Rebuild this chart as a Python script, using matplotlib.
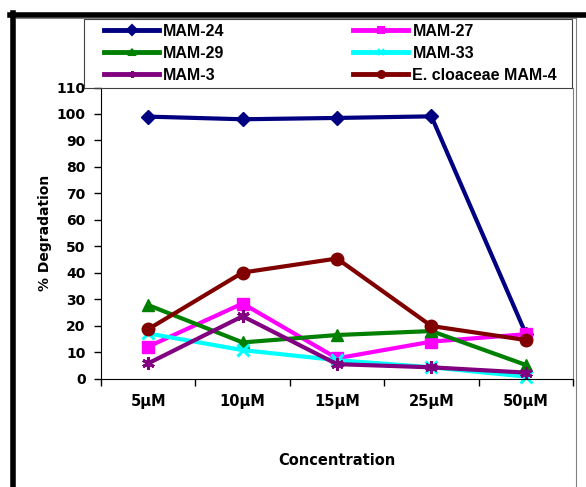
import numpy as np
import matplotlib.pyplot as plt
from matplotlib.lines import Line2D
from matplotlib.patches import Rectangle

plt.rcParams['font.family'] = ['DejaVu Sans']
plt.rcParams['font.weight'] = 'bold'

concentrations = ['5µM', '10µM', '15µM', '25µM', '50µM']
series_names = ['MAM-24', 'MAM-27', 'MAM-29', 'MAM-33', 'MAM-3', 'E. cloaceae MAM-4']
mam24 = [99.0, 98.0, 98.5, 99.1, 17.0]
mam27 = [12.1, 28.4, 7.7, 14.0, 16.8]
mam29 = [27.8, 13.7, 16.5, 18.0, 5.2]
mam33 = [17.1, 10.8, 7.0, 4.3, 0.8]
mam3 = [5.8, 23.6, 5.5, 4.3, 2.3]
cloaceae = [18.7, 40.1, 45.4, 19.9, 14.6]

colors = ['#000080', '#FF00FF', '#008000', '#00FFFF', '#800080', '#800000']
markers = ['D', 's', '^', 'x', (6, 2, 0), 'o']
sizes = [7, 8, 8, 9, 9, 9]

W, H = 586, 487
fig = plt.figure(figsize=(W / 100, H / 100), dpi=100)
ax = fig.add_axes([101 / W, 1 - 378.7 / H, 472 / W, (378.7 - 87.5) / H])

x = np.arange(len(concentrations)) + 0.5
all_series = [mam24, mam27, mam29, mam33, mam3, cloaceae]
for name, vals, c, m, s in zip(series_names, all_series, colors, markers, sizes):
    mew = 2.2 if m in ('x', (6, 2, 0)) else 1
    ax.plot(x, vals, color=c, lw=3, marker=m, ms=s, mec=c, mfc=c, mew=mew,
            label=name, clip_on=False)

ax.set_xlim(0, 5)
ax.set_ylim(0, 110)
ax.set_yticks(np.arange(0, 111, 10))
ax.set_xticks(np.arange(0, 6))
ax.set_xticklabels([])
ax.set_xticks(x, minor=True)
ax.set_xticklabels(concentrations, minor=True)
ax.tick_params(axis='x', which='minor', length=0, pad=11, labelsize=10.5)
ax.tick_params(axis='x', which='major', length=5, direction='out', width=1)
ax.tick_params(axis='y', length=5, direction='out', width=1, labelsize=10, pad=6)

ax.spines['top'].set_visible(False)
ax.spines['right'].set_color('#808080')

ax.set_ylabel('% Degradation', fontsize=10, fontweight='bold', labelpad=3)
ax.set_xlabel('Concentration', fontsize=10.5, fontweight='bold', labelpad=32)

# legend: two columns spread across a box sitting on top of the plot area
leg_handles = [Line2D([], [], color=c, lw=3.5, marker=m, ms=5, mec=c, mfc=c, mew=1.5)
               for c, m in zip(colors, markers)]
order = [0, 2, 4, 1, 3, 5]
fig.legend([leg_handles[i] for i in order], [series_names[i] for i in order],
           loc='center', bbox_to_anchor=(104 / W, 1 - 87.5 / H, 453 / W, 68.5 / H),
           mode='expand', ncol=2, frameon=False, borderaxespad=0, borderpad=0,
           handlelength=3.45, handletextpad=0.25, labelspacing=0.45,
           prop={'family': 'Liberation Sans', 'weight': 'bold', 'size': 11.5})
fig.add_artist(Rectangle((84 / W, 1 - 87.5 / H), 488 / W, 68.5 / H,
                         transform=fig.transFigure, fill=False,
                         edgecolor='#404040', lw=0.8))

# outer frame: thick black top and left, thin gray inner border
fig.add_artist(Line2D([10 / W, 1], [1 - 14.5 / H] * 2, color='black', lw=4))
fig.add_artist(Line2D([12.8 / W] * 2, [0, 1 - 12.5 / H], color='black', lw=4))
fig.add_artist(Line2D([16 / W, 576 / W], [1 - 18 / H] * 2, color='#808080', lw=0.8))
fig.add_artist(Line2D([576 / W] * 2, [0, 1 - 18 / H], color='#808080', lw=0.8))

fig.savefig('out.png', dpi=100)
